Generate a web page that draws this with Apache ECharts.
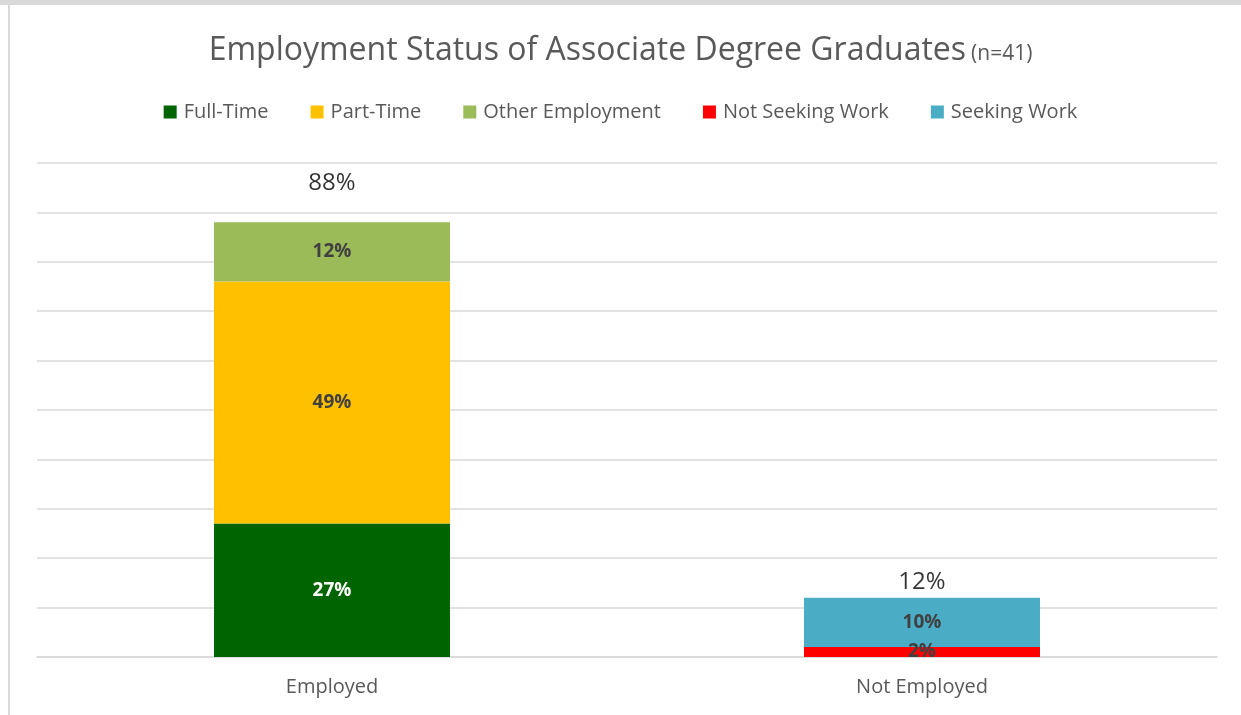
<!DOCTYPE html>
<html>
<head>
<meta charset="utf-8">
<script src="https://cdn.jsdelivr.net/npm/echarts@6/dist/echarts.min.js"></script>
<style>
html,body{margin:0;padding:0;background:#fff;}
#c{width:1241px;height:715px;}
</style>
</head>
<body>
<div id="c"></div>
<script>
const categories = ['Employed', 'Not Employed'];
const fullTime = [27, null];
const partTime = [49, null];
const otherEmployment = [12, null];
const notSeeking = [null, 2];
const seeking = [null, 10];
const totals = [88, 12];

const FONT = '"Open Sans", sans-serif';
const segLabel = (color) => ({
  show: true, position: 'inside', color: color, fontWeight: 'bold',
  fontSize: 19, fontFamily: FONT, formatter: p => p.value + '%'
});
const mk = (name, data, color, lblColor) => ({
  name, type: 'bar', stack: 'a', data, barWidth: '40%',
  itemStyle: { color }, label: segLabel(lblColor), emphasis: { disabled: true }
});

const chart = echarts.init(document.getElementById('c'));
chart.setOption({
  animation: false,
  title: {
    text: '{a|Employment Status of Associate Degree Graduates} {b|(n=41)}',
    left: 'center', top: 30,
    textStyle: {
      fontWeight: 'normal',
      rich: {
        a: { fontSize: 32, color: '#595959', fontFamily: FONT, fontWeight: 'normal' },
        b: { fontSize: 21, color: '#595959', fontFamily: FONT, fontWeight: 'normal', padding: [6, 0, 0, 0] }
      }
    }
  },
  legend: {
    top: 97, left: 'center', itemWidth: 13, itemHeight: 13, itemGap: 42,
    icon: 'rect',
    textStyle: { fontSize: 20, color: '#595959', fontFamily: FONT, padding: [0, 0, 0, 2] },
    data: ['Full-Time', 'Part-Time', 'Other Employment', 'Not Seeking Work', 'Seeking Work']
  },
  grid: { left: 37, right: 24, top: 163, bottom: 58 },
  xAxis: {
    type: 'category', data: categories,
    axisLine: { lineStyle: { color: '#d9d9d9', width: 1.5 } },
    axisTick: { show: false },
    axisLabel: { fontSize: 20, color: '#595959', fontFamily: FONT, margin: 20 }
  },
  yAxis: {
    type: 'value', min: 0, max: 100, interval: 10,
    axisLabel: { show: false }, axisLine: { show: false }, axisTick: { show: false },
    splitLine: { lineStyle: { color: '#d9d9d9', width: 1.5 } }
  },
  graphic: [
    { type: 'rect', shape: { x: 0, y: 0, width: 1241, height: 5 }, style: { fill: '#d9d9d9' }, silent: true },
    { type: 'line', shape: { x1: 9, y1: 5, x2: 9, y2: 715 }, style: { stroke: '#d9d9d9', lineWidth: 2 }, silent: true }
  ],
  series: [
    mk('Full-Time', fullTime, '#006400', '#ffffff'),
    mk('Part-Time', partTime, '#FFC000', '#404040'),
    mk('Other Employment', otherEmployment, '#9BBB59', '#404040'),
    mk('Not Seeking Work', notSeeking, '#FF0000', '#404040'),
    mk('Seeking Work', seeking, '#4BACC6', '#404040'),
    {
      name: 'Total', type: 'scatter', symbolSize: 0, data: totals.map((v, i) => ({
        value: v,
        label: { distance: i === 0 ? 27 : 4 }
      })),
      label: { show: true, position: 'top', color: '#000', fontSize: 24, fontFamily: FONT, formatter: p => p.value + '%' },
      emphasis: { disabled: true }, silent: true
    }
  ]
});
</script>
</body>
</html>
